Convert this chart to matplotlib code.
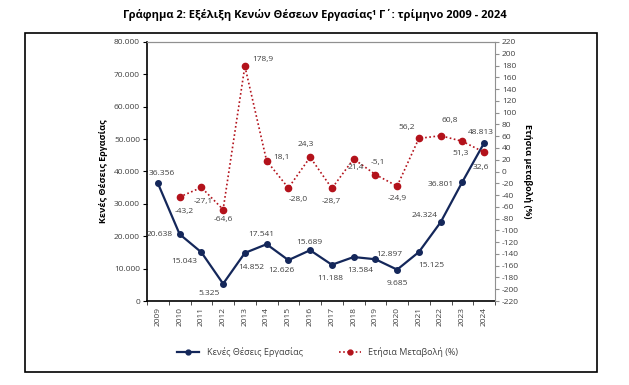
import numpy as np
import matplotlib.pyplot as plt
from matplotlib.patches import Rectangle
from matplotlib.lines import Line2D

plt.rcParams['font.family'] = ['Open Sans', 'Noto Sans', 'DejaVu Sans']
plt.rcParams['axes.unicode_minus'] = False

years = ['2009', '2010', '2011', '2012', '2013', '2014', '2015', '2016',
         '2017', '2018', '2019', '2020', '2021', '2022', '2023', '2024']
vacancies = [36356, 20638, 15043, 5325, 14852, 17541, 12626, 15689,
             11188, 13584, 12897, 9685, 15125, 24324, 36801, 48813]
annual_change = [np.nan, -43.2, -27.1, -64.6, 178.9, 18.1, -28.0, 24.3,
                 -28.7, 21.4, -5.1, -24.9, 56.2, 60.8, 51.3, 32.6]

# label offsets in pixels (dx, dy)
vac_off = [(4, 10), (-20, 0), (-17, -9), (-14, -10), (6, -15), (-5, 10), (-7, -10), (-1, 8),
           (-2, -14), (7, -13), (14, 5), (0, -14), (12, -13), (-16, 7), (-22, -3), (-3, 10)]
chg_off = [(0, 0), (5, -15), (2, -14), (0, -10), (18, 7), (15, 3), (10, -12), (-4, 13),
           (-1, -13), (2, -9), (2, 12), (0, -12), (-12, 11), (9, 15), (-2, -12), (-3, -15)]

blue = '#14275a'
red = '#b3121b'
grey = '#404040'


def gr_int(v):
    return f"{v:,.0f}".replace(',', '.')


def gr_dec(v):
    return f"{v:.1f}".replace('.', ',')


fig = plt.figure(figsize=(6.29, 3.85), dpi=100)
ax = fig.add_axes([147 / 629, 1 - 301 / 385, (495 - 147) / 629, (301 - 42) / 385])
ax2 = ax.twinx()

x = np.arange(len(years))
ax.plot(x, vacancies, color=blue, lw=1.6, marker='o', ms=4, zorder=3)
ax2.plot(x, annual_change, color=red, lw=1.2, ls=(0, (1, 1.5)), marker='o', ms=4.5, zorder=3)

for i, v in enumerate(vacancies):
    ax.annotate(gr_int(v), (x[i], v), xytext=vac_off[i], textcoords='offset pixels',
                ha='center', va='center', fontsize=6, color=grey)
for i, v in enumerate(annual_change):
    if np.isnan(v):
        continue
    ax2.annotate(gr_dec(v), (x[i], v), xytext=chg_off[i], textcoords='offset pixels',
                 ha='center', va='center', fontsize=6, color=grey)

ax.set_xlim(-0.5, len(years) - 0.5)
ax.set_ylim(0, 80000)
ax.set_yticks(np.arange(0, 80001, 10000))
ax.set_yticklabels([gr_int(v) for v in range(0, 80001, 10000)])
ax2.set_ylim(-220, 220)
ax2.set_yticks(np.arange(-220, 221, 20))

ax.set_xticks(x)
ax.set_xticklabels(years, rotation=90)
ax.set_xticks(np.arange(-0.5, len(years), 1), minor=True)
ax.tick_params(axis='x', which='major', length=0, labelsize=6, pad=4)
ax.tick_params(axis='x', which='minor', length=3, color='#303030', direction='out')
ax.tick_params(axis='y', length=3, labelsize=6, pad=2)
ax2.tick_params(axis='y', length=3, labelsize=6, color='#909090', pad=2)
for lab in ax.get_xticklabels() + ax.get_yticklabels() + ax2.get_yticklabels():
    lab.set_color(grey)

for s in ['left', 'bottom']:
    ax.spines[s].set_color('black')
    ax.spines[s].set_linewidth(1.2)
ax.spines['top'].set_color('#909090')
ax.spines['right'].set_visible(False)
ax2.spines['left'].set_visible(False)
ax2.spines['bottom'].set_visible(False)
ax2.spines['top'].set_color('#909090')
ax2.spines['right'].set_color('#909090')

ax.set_ylabel('Κενές Θέσεις Εργασίας', fontsize=6.5, fontweight='bold', labelpad=4)
ax2.set_ylabel('Ετήσια μεταβολή (%)', fontsize=6.5, fontweight='bold', rotation=270, labelpad=9)

fig.text(0.5, 1 - 15 / 385, 'Γράφημα 2: Εξέλιξη Κενών Θέσεων Εργασίας¹ Γ΄: τρίμηνο 2009 - 2024',
         ha='center', va='center', fontsize=8, fontweight='bold')

handles = [Line2D([], [], color=blue, lw=1.6, marker='o', ms=3.5),
           Line2D([], [], color=red, lw=1.2, ls=(0, (1, 1.5)), marker='o', ms=3.5)]
fig.legend(handles, ['Κενές Θέσεις Εργασίας', 'Ετήσια Μεταβολή (%)'], loc='center',
           bbox_to_anchor=(0.505, 1 - 352 / 385), ncol=2, frameon=False, fontsize=6.5,
           handlelength=2.5, columnspacing=4, labelcolor=grey)

fig.add_artist(Rectangle((25 / 629, 1 - 372 / 385), (597 - 25) / 629, (372 - 33) / 385,
                         transform=fig.transFigure, fill=False, ec='black', lw=1.2))

plt.savefig('out.png', dpi=100)
plt.close()
